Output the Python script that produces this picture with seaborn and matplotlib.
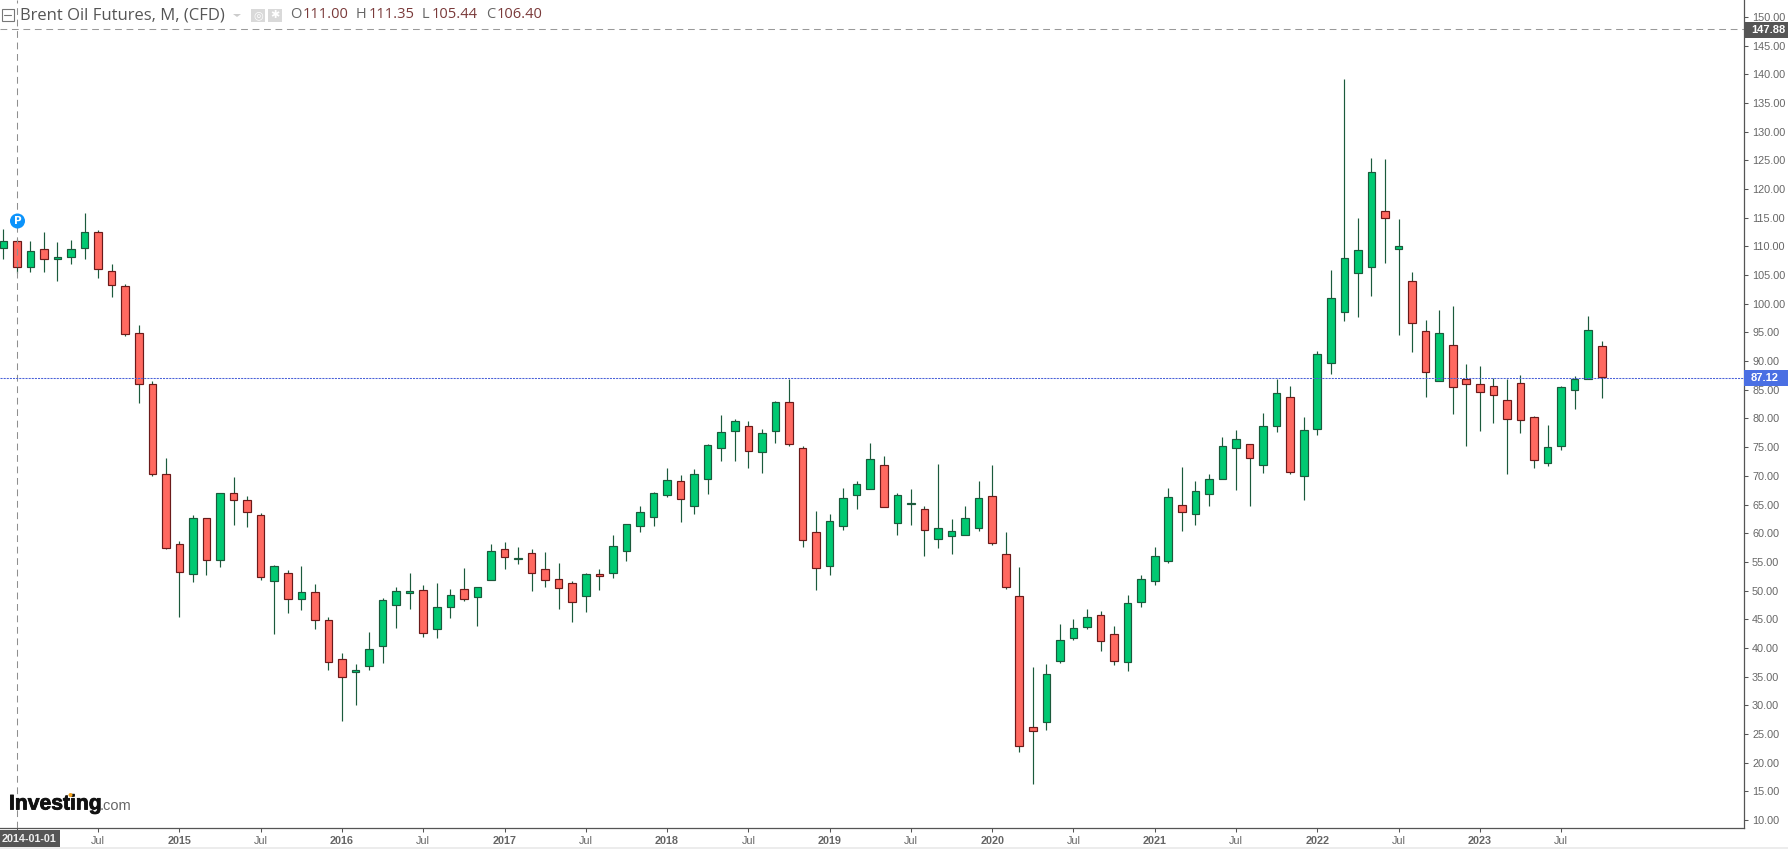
import numpy as np
import pandas as pd
import seaborn as sns
import matplotlib
matplotlib.use("Agg")
import matplotlib.pyplot as plt
import matplotlib.patheffects as pe
from matplotlib.patches import Rectangle, Circle, Polygon

sns.set_theme(style="white")
plt.rcParams["font.family"] = ["Liberation Sans", "DejaVu Sans"]

# month index: 0 = January 2014
month_index = list(range(-1, 118))

opens = [109.7, 111.00, 106.40, 109.49, 107.75, 108.10, 109.66, 112.45, 105.65, 103.04, 94.85, 85.96, 70.27,
         58.06, 52.83, 62.60, 55.27, 66.95, 65.73, 63.12, 51.61, 53.00, 48.47, 49.69, 44.81,
         38.01, 35.86, 36.79, 40.28, 47.43, 49.64, 50.04, 43.24, 47.08, 50.22, 48.82, 51.78,
         57.19, 55.50, 56.49, 53.70, 51.96, 51.26, 48.99, 52.83, 53.00, 56.84, 61.20, 62.77,
         66.60, 69.04, 64.68, 69.39, 74.79, 77.76, 78.63, 74.10, 77.76, 82.81, 74.79, 60.15,
         54.22, 61.20, 66.60, 67.65, 71.83, 61.72, 65.09, 64.16, 58.93, 59.45, 59.63, 60.85,
         66.43, 56.31, 48.99, 26.16, 27.03, 37.66, 41.67, 43.59, 45.68, 42.37, 37.49, 47.95,
         51.61, 55.10, 64.86, 63.29, 66.77, 69.39, 74.79, 75.49, 71.83, 78.63, 83.69, 69.91,
         78.11, 89.62, 98.51, 105.31, 106.36, 116.12, 109.49, 103.91, 95.20, 86.48, 92.76, 86.83,
         85.96, 85.61, 83.17, 86.13, 80.21, 72.19, 75.15, 84.91, 86.83, 92.58]
closes = [110.9, 106.40, 109.14, 107.75, 108.10, 109.49, 112.45, 106.00, 103.20, 94.67, 85.96, 70.27, 57.36,
          53.18, 62.60, 55.27, 66.95, 65.73, 63.64, 52.31, 54.23, 48.47, 49.69, 44.81, 37.49,
          34.88, 36.10, 39.76, 48.30, 49.87, 49.87, 42.55, 47.08, 49.17, 48.47, 50.57, 56.84,
          55.80, 55.68, 53.00, 51.78, 50.39, 47.95, 52.83, 52.48, 57.71, 61.54, 63.64, 66.95,
          69.22, 65.90, 70.26, 75.32, 77.58, 79.50, 74.27, 77.41, 82.81, 75.49, 58.76, 53.87,
          62.07, 66.08, 68.52, 72.88, 64.51, 66.60, 65.26, 60.50, 60.85, 60.32, 62.59, 66.08,
          58.23, 50.56, 22.84, 25.46, 35.40, 41.32, 43.41, 45.33, 41.15, 37.66, 47.77, 51.96,
          55.97, 66.25, 63.64, 67.30, 69.39, 75.14, 76.36, 73.05, 78.63, 84.38, 70.61, 77.93,
          91.18, 100.95, 107.92, 109.32, 122.92, 114.90, 110.02, 96.59, 88.05, 94.85, 85.44, 85.96,
          84.56, 84.04, 79.86, 79.68, 72.71, 74.98, 85.44, 86.83, 95.37, 87.18]
highs = [113.0, 111.35, 110.88, 112.45, 110.70, 111.06, 115.80, 112.80, 106.90, 103.40, 96.24, 86.48, 73.05,
         58.64, 63.12, 62.60, 66.95, 69.74, 66.43, 63.47, 54.46, 53.53, 54.23, 51.09, 45.34,
         39.06, 37.14, 42.72, 48.65, 50.57, 53.00, 50.91, 51.26, 50.22, 53.88, 50.57, 58.06,
         58.41, 57.54, 57.19, 56.67, 54.75, 51.61, 52.99, 53.70, 59.63, 61.54, 64.68, 67.12,
         71.31, 70.09, 71.13, 75.49, 80.55, 79.85, 79.50, 78.10, 82.99, 86.82, 75.14, 63.81,
         63.29, 67.82, 69.04, 75.67, 73.40, 66.95, 67.65, 64.68, 72.00, 62.42, 64.68, 69.04,
         71.83, 60.15, 54.05, 36.62, 37.14, 44.11, 44.98, 46.73, 46.38, 43.76, 49.17, 52.65,
         57.54, 67.82, 71.48, 69.04, 70.26, 76.71, 77.93, 75.49, 80.90, 86.82, 85.60, 80.20,
         91.77, 105.83, 139.13, 114.90, 125.36, 125.18, 114.72, 105.48, 97.12, 98.86, 99.56, 89.45,
         89.10, 87.00, 86.83, 87.53, 80.38, 78.81, 85.61, 87.35, 97.81, 93.45]
lows = [107.8, 105.44, 105.60, 105.60, 104.00, 107.00, 107.80, 104.55, 101.20, 94.44, 82.76, 70.03, 57.20,
        45.45, 51.55, 52.77, 54.11, 61.49, 61.14, 51.90, 42.49, 46.15, 46.67, 43.36, 36.21,
        27.32, 30.11, 36.21, 37.43, 43.53, 46.85, 41.96, 41.79, 45.28, 48.24, 43.88, 51.78,
        53.82, 54.69, 49.98, 50.68, 46.85, 44.58, 46.32, 50.15, 52.25, 55.21, 60.27, 61.31,
        66.37, 62.01, 63.40, 66.89, 72.64, 72.64, 71.42, 70.55, 75.78, 75.26, 57.65, 50.15,
        52.77, 60.61, 64.28, 67.65, 64.51, 59.74, 61.49, 56.08, 57.48, 56.43, 59.63, 60.44,
        58.00, 50.33, 21.91, 16.34, 25.75, 37.31, 41.32, 43.24, 39.52, 36.96, 36.03, 47.07,
        50.91, 54.86, 60.44, 61.49, 64.80, 69.39, 67.59, 64.80, 70.55, 77.70, 70.38, 65.84,
        77.18, 87.82, 97.06, 97.75, 101.42, 107.17, 94.62, 91.65, 83.81, 86.48, 80.84, 75.27,
        77.88, 79.28, 70.39, 77.53, 71.43, 71.78, 74.57, 81.72, 86.83, 83.63]

price_ticks = list(range(10, 155, 5))
time_tick_months = list(range(0, 120, 6))
time_tick_labels = ["", "Jul", "2015", "Jul", "2016", "Jul", "2017", "Jul", "2018", "Jul",
                    "2019", "Jul", "2020", "Jul", "2021", "Jul", "2022", "Jul", "2023", "Jul"]
last_price = 87.12
cross_price = 147.88
cross_month = 0

UP_FILL, UP_EDGE = "#00c972", "#1b5a3c"
DOWN_FILL, DOWN_EDGE = "#ff6960", "#6b1a1a"
WICK = "#1b5a3c"
AXIS = "#555555"
TXT = "#666666"
W, H = 1788, 849
AX_R, AX_B = 1744, 828

df = pd.DataFrame({"m": month_index, "o": opens, "h": highs, "l": lows, "c": closes})
df["lo"] = df[["o", "c"]].min(axis=1)
df["span"] = (df["o"] - df["c"]).abs()
df["up"] = df["c"] >= df["o"]

fig = plt.figure(figsize=(W / 100, H / 100), dpi=100, facecolor="white")
ax = fig.add_axes([0, (H - AX_B) / H, AX_R / W, AX_B / H])
ax.set_facecolor("white")
ax.grid(False)

ax.vlines(df["m"], df["l"], df["h"], color=WICK, lw=0.85, zorder=2)
for up, fill, edge in [(True, UP_FILL, UP_EDGE), (False, DOWN_FILL, DOWN_EDGE)]:
    sub = df[df["up"] == up].sort_values("m")
    sns.barplot(data=sub, x="m", y="span", native_scale=True, width=0.56, errorbar=None,
                color=fill, saturation=1, bottom=sub["lo"].to_numpy(), edgecolor=edge,
                linewidth=0.85, zorder=3, ax=ax)

# px -> data
ax.set_xlim(-16.85 / 13.546, (AX_R - 16.85) / 13.546)
ax.set_ylim(10 + (820 - AX_B) / 5.736, 10 + 820 / 5.736)

ax.axhline(cross_price, color="#999999", lw=0.75, dashes=(6.5, 4.5), zorder=1)
ax.axvline(cross_month, color="#8f8f8f", lw=0.75, dashes=(6.5, 4.5), zorder=4)
ax.axhline(last_price, color="#4a62d8", lw=0.75, dashes=(2, 1), zorder=5)

ax.set_xlabel("")
ax.set_ylabel("")
ax.yaxis.tick_right()
ax.set_yticks(price_ticks)
ax.set_yticklabels([f"{v:.2f}" for v in price_ticks])
ax.set_xticks(time_tick_months)
ax.set_xticklabels(time_tick_labels)
ax.tick_params(axis="y", length=3, width=0.75, color=AXIS, labelcolor=TXT, labelsize=7.8, pad=2.8, right=True)
ax.tick_params(axis="x", length=3, width=0.75, color=AXIS, labelcolor=TXT, labelsize=7.8, pad=3, bottom=True)
for t in ax.get_xticklabels():
    if t.get_text().isdigit():
        t.set_fontweight("bold")
for side in ["left", "top"]:
    ax.spines[side].set_visible(False)
for side in ["right", "bottom"]:
    ax.spines[side].set_color(AXIS)
    ax.spines[side].set_linewidth(0.9)

def fx(p):
    return p / W
def fy(p):
    return 1 - p / H

def box(x0, y0, x1, y1, **kw):
    fig.add_artist(Rectangle((fx(x0), fy(y1)), (x1 - x0) / W, (y1 - y0) / H,
                             transform=fig.transFigure, **kw))

# bottom strip
box(0, 847, W, 849, facecolor="#ececec", edgecolor="none")
# value / date badges
box(AX_R, 22, W, 38, facecolor="#555555", edgecolor="none", zorder=5)
fig.text(fx(1751), fy(30), f"{cross_price:.2f}", color="white", fontsize=8.0, fontweight="bold", va="center", zorder=6)
box(AX_R, 370, W, 385.7, facecolor="#4a6fe3", edgecolor="none", zorder=5)
fig.text(fx(1751), fy(378), f"{last_price:.2f}", color="white", fontsize=8.0, fontweight="bold", va="center", zorder=6)
box(0, 829.5, 60, 847, facecolor="#555555", edgecolor="none", zorder=5)
fig.text(fx(28.5), fy(839), "2014-01-01", color="#eeeeee", fontsize=7.8, fontweight="bold", ha="center", va="center", zorder=6)

# header
box(1.5, 9, 13.5, 21, facecolor="white", edgecolor="#777777", lw=0.8, zorder=5)
fig.add_artist(plt.Line2D([fx(4), fx(11)], [fy(15), fy(15)], color="#777777", lw=0.8,
                          transform=fig.transFigure, zorder=6))
fig.text(fx(20), fy(15), "Brent Oil Futures, M, (CFD)", color="#555555", fontsize=12.0,
         family="Open Sans", va="center")
fig.add_artist(Polygon([[fx(233), fy(14)], [fx(241), fy(14)], [fx(237), fy(17)]], closed=True,
                       facecolor="#cccccc", edgecolor="none", transform=fig.transFigure))
for xa, glyph in [(251, "◎"), (268, "✱")]:
    box(xa, 8.5, xa + 14, 21.5, facecolor="#d9d9d9", edgecolor="none")
    fig.text(fx(xa + 7), fy(15), glyph, color="white", fontsize=8,
             family="DejaVu Sans", ha="center", va="center")
for lab, lx, val, vx in [("O", 290, "111.00", 303), ("H", 356, "111.35", 369),
                         ("L", 422, "105.44", 432), ("C", 486, "106.40", 497)]:
    fig.text(fx(lx), fy(15), lab, color="#666666", fontsize=10.5, family="Open Sans", va="center")
    fig.text(fx(vx), fy(15), val, color="#7a3a3a", fontsize=10.5, family="Open Sans", va="center")

# P marker
ax_p = fig.add_axes([0, 0, 1, 1], facecolor="none")
ax_p.set_xlim(0, W)
ax_p.set_ylim(H, 0)
ax_p.axis("off")
ax_p.add_patch(Circle((17.5, 221), 7.5, facecolor="#0c93fb", edgecolor="none"))
ax_p.text(17.5, 220.5, "P", color="white", fontsize=7.5, fontweight="bold", ha="center", va="center",
          family="DejaVu Sans")

# logo
logo = ax_p.text(9, 804, "Investing", color="#111111", fontsize=15.2, fontweight="bold", va="center",
                 family="Liberation Sans")
logo.set_path_effects([pe.withStroke(linewidth=0.6, foreground="#111111")])
ax_p.text(100, 806, ".com", color="#666666", fontsize=10.5, va="center", family="Liberation Sans")
ax_p.add_patch(Circle((70.5, 795), 2.0, facecolor="#f5a623", edgecolor="none", zorder=5))

fig.savefig("out.png", dpi=100, facecolor="white")
